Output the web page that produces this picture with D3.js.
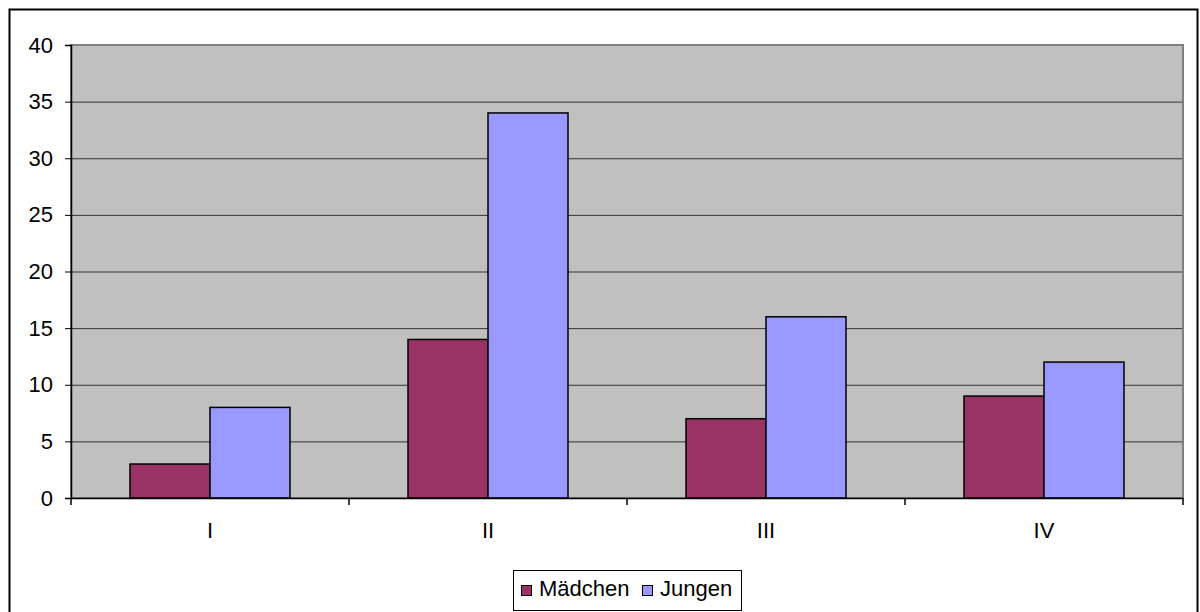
<!DOCTYPE html>
<html><head><meta charset="utf-8">
<script src="https://cdnjs.cloudflare.com/ajax/libs/d3/7.8.5/d3.min.js"></script>
<style>body{margin:0;background:#fff}svg{display:block}</style>
</head><body>
<svg id="c" width="1200" height="612"></svg>
<script>
const categories = ["I","II","III","IV"];
const seriesNames = ["Mädchen","Jungen"];
const maedchen = [3,14,7,9];
const jungen = [8,34,16,12];
const yTicks = [0,5,10,15,20,25,30,35,40];
const colors = ["#993366","#9999FF"];

const svg = d3.select("#c");
const font = "'Liberation Sans', Arial, sans-serif";
const fs = 22;
// outer border
svg.append("rect").attr("x",9.5).attr("y",9.5).attr("width",1188).attr("height",620)
  .attr("fill","#fff").attr("stroke","#000").attr("stroke-width",2);

const L=71,R=1183,T=45,B=498;
const x = d3.scaleBand().domain(categories).range([L,R]);
const y = d3.scaleLinear().domain([0,40]).range([B,T]);
const barW = 80;

svg.append("rect").attr("x",L).attr("y",T).attr("width",R-L).attr("height",B-T).attr("fill","#C0C0C0");
// gridlines
svg.append("g").selectAll("line").data(yTicks.filter(d=>d>0)).join("line")
  .attr("x1",L).attr("x2",R).attr("y1",d=>y(d)+0.5).attr("y2",d=>y(d)+0.5)
  .attr("stroke","#333").attr("stroke-width",1);
// plot border
svg.append("rect").attr("x",L).attr("y",T).attr("width",R-L).attr("height",B-T)
  .attr("fill","none").attr("stroke","#808080").attr("stroke-width",2);

const data = [maedchen,jungen];
data.forEach((vals,si)=>{
  svg.append("g").selectAll("rect").data(categories).join("rect")
    .attr("x",c=>x(c)+x.bandwidth()/2 - barW + si*barW)
    .attr("y",(c,i)=>y(vals[i]))
    .attr("width",barW)
    .attr("height",(c,i)=>B-y(vals[i]))
    .attr("fill",colors[si]).attr("stroke","#000").attr("stroke-width",1.5);
});

// y axis
const ya = svg.append("g").attr("transform",`translate(${L},0)`)
  .call(d3.axisLeft(y).tickValues(yTicks).tickSize(6).tickPadding(12));
ya.select(".domain").attr("stroke","#000").attr("stroke-width",1.5);
ya.selectAll("line").attr("stroke","#000");
ya.selectAll("text").attr("font-family",font).attr("font-size",fs).attr("fill","#000");

// x axis
const xa = svg.append("g").attr("transform",`translate(0,${B})`)
  .call(d3.axisBottom(x).tickSize(0).tickPadding(24));
xa.select(".domain").attr("stroke","#000").attr("stroke-width",1.5);
xa.selectAll("text").attr("font-family",font).attr("font-size",fs).attr("fill","#000");
const bounds = categories.map(c=>x(c)).concat([R]);
svg.append("g").selectAll("line").data(bounds).join("line")
  .attr("x1",d=>d).attr("x2",d=>d).attr("y1",B).attr("y2",B+7).attr("stroke","#000").attr("stroke-width",1.5);

// legend
const lg = svg.append("g");
lg.append("rect").attr("x",513.5).attr("y",570.5).attr("width",228).attr("height",40)
  .attr("fill","#fff").attr("stroke","#000").attr("stroke-width",1);
const items = [{n:seriesNames[0],c:colors[0],x:521},{n:seriesNames[1],c:colors[1],x:642}];
items.forEach(it=>{
  lg.append("rect").attr("x",it.x+0.5).attr("y",585.5).attr("width",10).attr("height",10)
    .attr("fill",it.c).attr("stroke","#000").attr("stroke-width",1);
  lg.append("text").attr("x",it.x+18).attr("y",596).attr("font-family",font).attr("font-size",fs)
    .text(it.n);
});
</script>
</body></html>
